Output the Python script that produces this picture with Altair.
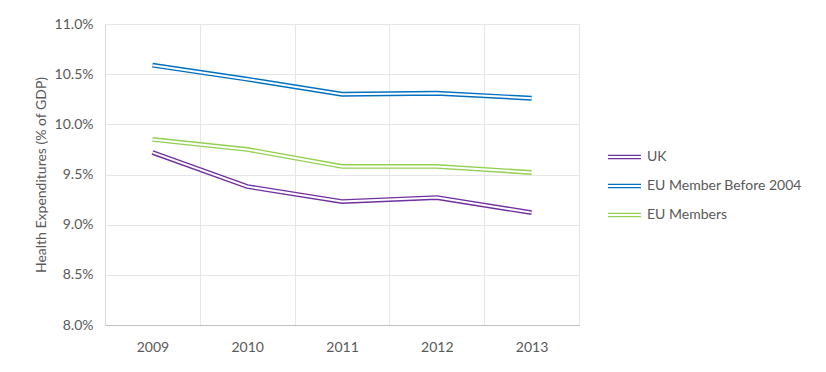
import altair as alt
import pandas as pd

years = ["2009", "2010", "2011", "2012", "2013"]
series = ["UK", "EU Member Before 2004", "EU Members"]
uk = [9.72, 9.38, 9.23, 9.27, 9.12]
eu_before_2004 = [10.59, 10.45, 10.30, 10.31, 10.26]
eu_members = [9.85, 9.75, 9.58, 9.58, 9.52]
colors = ["#7030A0", "#0070C0", "#92D050"]
y_ticks = [8.0, 8.5, 9.0, 9.5, 10.0, 10.5, 11.0]

rows = []
for name, vals in zip(series, [uk, eu_before_2004, eu_members]):
    for yr, v in zip(years, vals):
        rows.append({"Year": yr, "Series": name, "Value": v / 100})
df = pd.DataFrame(rows)

FONT = "Lato"
TXT = "#595959"
FS = 14

x_enc = alt.X("Year:N", sort=years,
              scale=alt.Scale(paddingInner=0, paddingOuter=0),
              axis=alt.Axis(title=None, labelAngle=0, ticks=False, labelPadding=15,
                            grid=True, tickBand="extent", gridColor="#e6e6e6",
                            domainColor="#bfbfbf", labelFontSize=FS, labelColor=TXT,
                            labelFont=FONT))
y_enc = alt.Y("Value:Q",
              scale=alt.Scale(domain=[0.08, 0.11], nice=False, zero=False),
              axis=alt.Axis(values=[t / 100 for t in y_ticks], format=".1%",
                            title="Health Expenditures (% of GDP)",
                            titleAngle=270, titleAlign="center", titleBaseline="middle",
                            titleX=-64, titleY=150.5, titleFontSize=FS,
                            titleFontWeight="normal", titleColor=TXT, titleFont=FONT,
                            ticks=False, labelPadding=12, labelFontSize=FS,
                            labelColor=TXT, labelFont=FONT, gridColor="#e6e6e6",
                            domainColor="#d9d9d9"))

base = alt.Chart(df)
colored = base.mark_line(strokeWidth=4.8).encode(
    x=x_enc, y=y_enc,
    color=alt.Color("Series:N", sort=series,
                    scale=alt.Scale(domain=series, range=colors),
                    legend=alt.Legend(title=None, orient="none", legendX=507.5, legendY=121,
                                      symbolType="M-1.5,-0.15H1.5M-1.5,0.15H1.5",
                                      symbolSize=484, symbolStrokeWidth=1.3,
                                      symbolFillColor="transparent",
                                      labelOffset=10.5, rowPadding=10, padding=0,
                                      labelFontSize=FS, labelColor=TXT, labelFont=FONT)),
)
inner = base.mark_line(strokeWidth=2.0, color="white").encode(
    x=x_enc, y=y_enc, detail="Series:N"
)

chart = alt.layer(colored, inner).properties(
    width=474, height=301,
    autosize=alt.AutoSizeParams(type="none"),
    padding={"left": 97, "top": 16, "right": 239, "bottom": 39},
).configure_view(stroke="#e6e6e6").configure(background="white")

chart.save("out.html", embed_options={"renderer": "svg", "actions": False})
